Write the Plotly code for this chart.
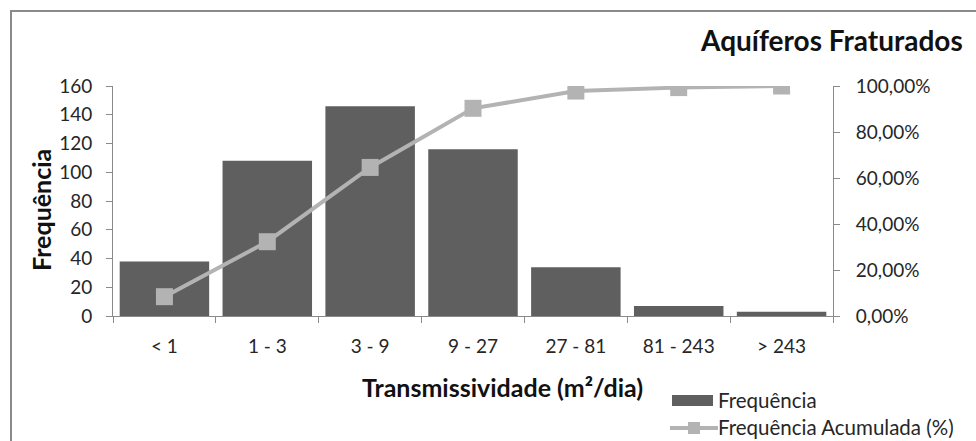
import plotly.graph_objects as go

categories = ["< 1", "1 - 3", "3 - 9", "9 - 27", "27 - 81", "81 - 243", "> 243"]
frequencia = [38, 108, 146, 116, 34, 7, 3]
acumulada = [8.4, 32.3, 64.6, 90.3, 97.8, 99.3, 100.0]

W, H = 976, 441
L, R, T, B = 113, 143, 86, 125
pw, ph = W - L - R, H - T - B

def px_x(x):
    return (x - L) / pw

def px_y(y):
    return (H - B - y) / ph

font = "Lato, 'Open Sans', sans-serif"
BAR = "#5f5f5f"
LINE = "#b3b3b3"
AX = "#8a8a8a"

fig = go.Figure()
fig.add_trace(go.Bar(
    x=categories, y=frequencia, name="Frequência",
    marker=dict(color=BAR, line=dict(width=0)),
))
fig.add_trace(go.Scatter(
    x=categories, y=acumulada, name="Frequência Acumulada (%)", yaxis="y2",
    mode="lines+markers",
    line=dict(color=LINE, width=4),
    marker=dict(symbol="square", size=17, color=LINE),
))

fig.update_layout(
    width=W, height=H,
    margin=dict(l=L, r=R, t=T, b=B, autoexpand=False),
    paper_bgcolor="white", plot_bgcolor="white",
    separators=",.",
    bargap=0.13,
    showlegend=False,
    font=dict(family=font, size=19, color="#262626"),
    xaxis=dict(
        showline=True, linecolor=AX, linewidth=1,
        ticks="outside", tickson="boundaries", ticklen=6, tickcolor=AX,
        ticklabelstandoff=13,
        automargin=False,
    ),
    yaxis=dict(
        range=[0, 160], dtick=20, showgrid=False, zeroline=False,
        showline=True, linecolor=AX, linewidth=1,
        ticks="outside", ticklen=6, tickcolor=AX,
        ticklabelstandoff=10,
        automargin=False,
    ),
    yaxis2=dict(
        range=[0, 100], dtick=20, overlaying="y", side="right",
        showgrid=False, zeroline=False,
        showline=True, linecolor=AX, linewidth=1,
        ticks="outside", ticklen=6, tickcolor=AX,
        ticklabelstandoff=12,
        tickformat=".2f", ticksuffix="%",
        automargin=False,
    ),
)

fig.add_annotation(
    text="<b>Aquíferos Fraturados</b>", xref="paper", yref="paper",
    x=px_x(965), y=px_y(40), xanchor="right", yanchor="middle",
    showarrow=False, font=dict(size=28, color="#111"),
)

# x-axis title
fig.add_annotation(
    text="<b>Transmissividade (m²/dia)</b>", xref="paper", yref="paper",
    x=px_x(502), y=px_y(387), xanchor="center", yanchor="middle",
    showarrow=False, font=dict(size=25, color="#111"),
)

# y-axis title
fig.add_annotation(
    text="<b>Frequência</b>", xref="paper", yref="paper", textangle=-90,
    x=px_x(41), y=px_y(210), xanchor="center", yanchor="middle",
    showarrow=False, font=dict(size=25, color="#111"),
)

# outer chart border
fig.add_shape(
    type="rect", xref="paper", yref="paper",
    x0=px_x(11), x1=px_x(1000), y0=px_y(470), y1=px_y(11),
    line=dict(color=AX, width=2), fillcolor="rgba(0,0,0,0)", layer="below",
)

# custom legend
fig.add_shape(
    type="rect", xref="paper", yref="paper",
    x0=px_x(672), x1=px_x(713), y0=px_y(406), y1=px_y(395),
    line=dict(width=0), fillcolor=BAR,
)
fig.add_shape(
    type="line", xref="paper", yref="paper",
    x0=px_x(670), x1=px_x(718), y0=px_y(428), y1=px_y(428),
    line=dict(color=LINE, width=4),
)
fig.add_shape(
    type="rect", xref="paper", yref="paper",
    x0=px_x(688), x1=px_x(700), y0=px_y(434), y1=px_y(422),
    line=dict(width=0), fillcolor=LINE,
)
for name, yc in [(fig.data[0].name, 400), (fig.data[1].name, 427)]:
    fig.add_annotation(
        text=name, xref="paper", yref="paper",
        x=px_x(716), y=px_y(yc), xanchor="left", yanchor="middle",
        showarrow=False, font=dict(size=20.5, color="#262626"),
    )

fig.write_html("out.html")
